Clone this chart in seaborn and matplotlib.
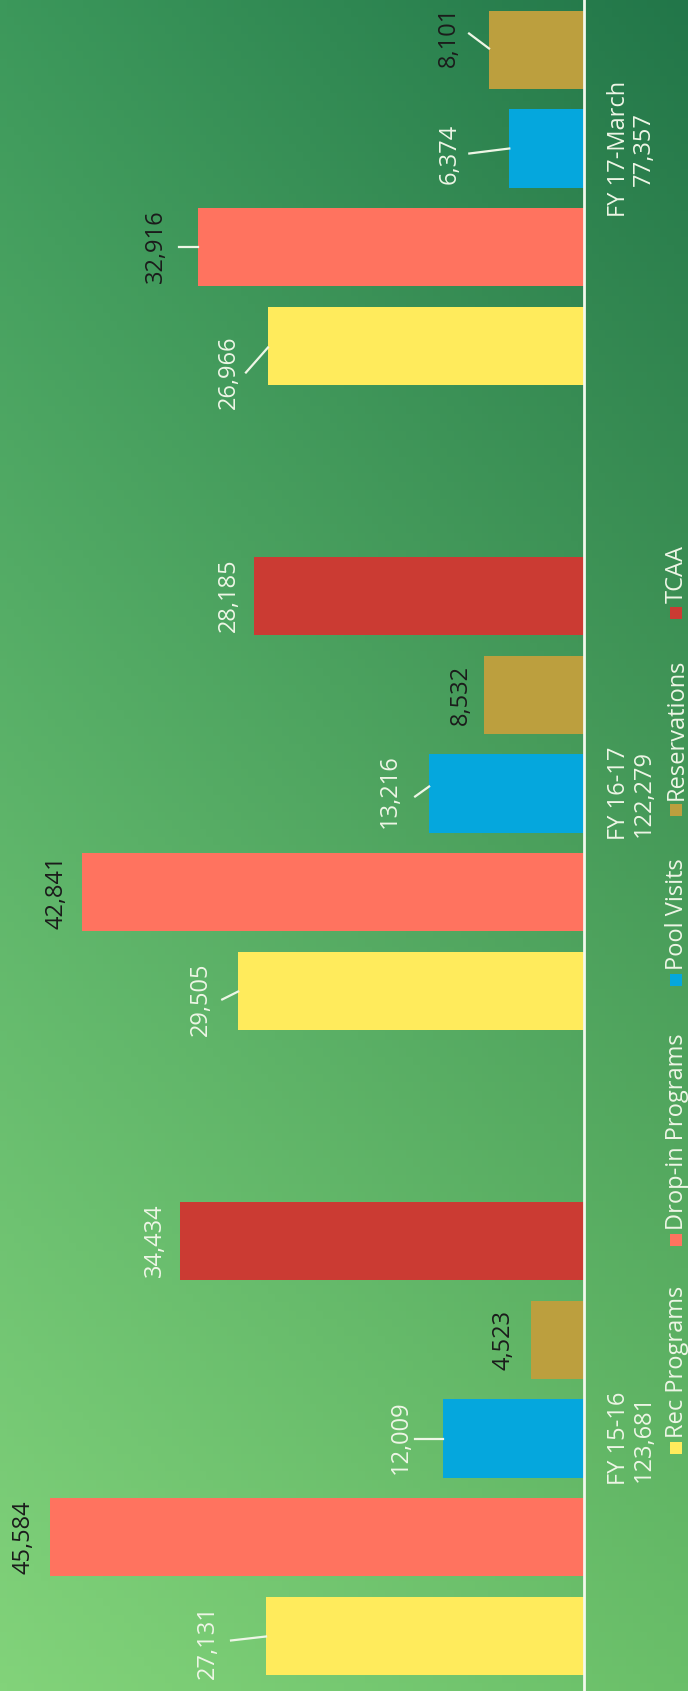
import numpy as np
import pandas as pd
import seaborn as sns
from matplotlib import pyplot as plt
from matplotlib.patches import Rectangle
from matplotlib.lines import Line2D

# chart values
periods = ['FY 15-16', 'FY 16-17', 'FY 17-March']
period_totals = ['123,681', '122,279', '77,357']
programs = ['Rec Programs', 'Drop-in Programs', 'Pool Visits', 'Reservations', 'TCAA']
rec_programs = [27131, 29505, 26966]
dropin_programs = [45584, 42841, 32916]
pool_visits = [12009, 13216, 6374]
reservations = [4523, 8532, 8101]
tcaa = [34434, 28185, None]

colors = {
    'Rec Programs': '#FFEB5C',
    'Drop-in Programs': '#FF735F',
    'Pool Visits': '#05A7DD',
    'Reservations': '#BC9F3E',
    'TCAA': '#CB3B33',
}

# label styling: dark or light text, gap from bar end (px), vertical shift (px, down = +)
WHITE = '#EEF6E6'
DARK = '#1B1B1B'
label_style = {
    27131: (WHITE, 46, 6), 45584: (DARK, 14, 0), 12009: (WHITE, 30, -1),
    4523: (DARK, 15, 0), 34434: (WHITE, 13, 0),
    29505: (WHITE, 25, 8), 42841: (DARK, 13, 0), 13216: (WHITE, 27, -2),
    8532: (DARK, 11, 0), 28185: (WHITE, 13, 0),
    26966: (WHITE, 27, 26), 32916: (DARK, 30, -1), 6374: (WHITE, 48, 5),
    8101: (DARK, 28, -13),
}
# leader lines: start dx, start dy, end dy (px from bar end / bar centre)
leaders = {
    27131: (-35, 4, 0), 12009: (-28, 0, 0), 29505: (-16, 8, 0),
    13216: (-14, 3, -7), 26966: (-22, 26, 1), 32916: (-19, 0, 0),
    6374: (-40, 5, 0), 8101: (-20, -16, -1),
}

W, H = 688, 1691
PX_PER_UNIT = 0.01172
BASE_X = 584

rows = []
series = [rec_programs, dropin_programs, pool_visits, reservations, tcaa]
for prog, vals in zip(programs, series):
    for per, v in zip(periods, vals):
        if v is not None:
            rows.append({'period': per, 'program': prog, 'value': v})
df = pd.DataFrame(rows)

plt.rcParams['font.family'] = ['Open Sans', 'DejaVu Sans']
fig = plt.figure(figsize=(W / 100, H / 100), dpi=100)

# background gradient
bg = fig.add_axes([0, 0, 1, 1])
corners = {
    'tl': np.array([0x3C, 0x98, 0x5B]), 'tr': np.array([0x22, 0x76, 0x49]),
    'bl': np.array([0x82, 0xD3, 0x7A]), 'br': np.array([0x6A, 0xBF, 0x69]),
}
ty = np.linspace(0, 1, 200)[:, None, None]
tx = np.linspace(0, 1, 100)[None, :, None]
img = ((1 - ty) * ((1 - tx) * corners['tl'] + tx * corners['tr'])
       + ty * ((1 - tx) * corners['bl'] + tx * corners['br'])) / 255
bg.imshow(img, aspect='auto', extent=[0, 1, 0, 1])
bg.axis('off')

ax = fig.add_axes([0, 0, 1, 1])
ax.patch.set_alpha(0)
sns.barplot(data=df, x='value', y='period', hue='program',
            order=periods[::-1], hue_order=programs[::-1],
            palette=colors, orient='h', width=0.7674, gap=0.212,
            saturation=1, linewidth=0, legend=False, ax=ax)
ax.set_xlim(BASE_X / PX_PER_UNIT, -(W - BASE_X) / PX_PER_UNIT)
ax.set_ylim((H - 148.5) / 645, -148.5 / 645)
ax.axis('off')
ax.axvline(0, color='#F2F8EC', lw=2)

fig.canvas.draw()


def to_fig(xd, yd):
    return fig.transFigure.inverted().transform((xd, yd))


FS = 17
for p in ax.patches:
    v = p.get_width()
    if v <= 0:
        continue
    key = int(round(v))
    if key not in label_style:
        continue
    ybar = p.get_y() + p.get_height() / 2
    col, gap, dy = label_style[key]
    ax.annotate(f'{key:,}', xy=(v, ybar), xytext=(-gap, -dy),
                textcoords='offset pixels', rotation=90,
                ha='right', va='center', color=col, fontsize=FS)
    if key in leaders:
        sdx, sdy, edy = leaders[key]
        ex, ey = ax.transData.transform((v, ybar))
        p0 = to_fig(ex + sdx, ey - sdy)
        p1 = to_fig(ex, ey - edy)
        fig.add_artist(Line2D([p0[0], p1[0]], [p0[1], p1[1]],
                              transform=fig.transFigure, color=WHITE, lw=1.6))

# category labels under the baseline
for i, (per, tot) in enumerate(zip(periods[::-1], period_totals[::-1])):
    _, yd = ax.transData.transform((0, i))
    fig.text(631 / W, yd / H, f'{per}\n{tot}', rotation=90, ha='center',
             va='center', multialignment='center', color=WHITE,
             fontsize=FS, linespacing=1.05)

# legend, drawn along the right edge
legend_y = [1448, 1240, 980, 810, 613]
for prog, sy in zip(programs, legend_y):
    fig.add_artist(Rectangle(((676 - 6) / W, 1 - (sy + 6) / H), 12 / W, 12 / H,
                             transform=fig.transFigure, color=colors[prog], lw=0))
    fig.text(677 / W, 1 - (sy - 10) / H, prog, rotation=90, ha='center',
             va='bottom', color=WHITE, fontsize=FS)

fig.savefig('out.png', dpi=100)
